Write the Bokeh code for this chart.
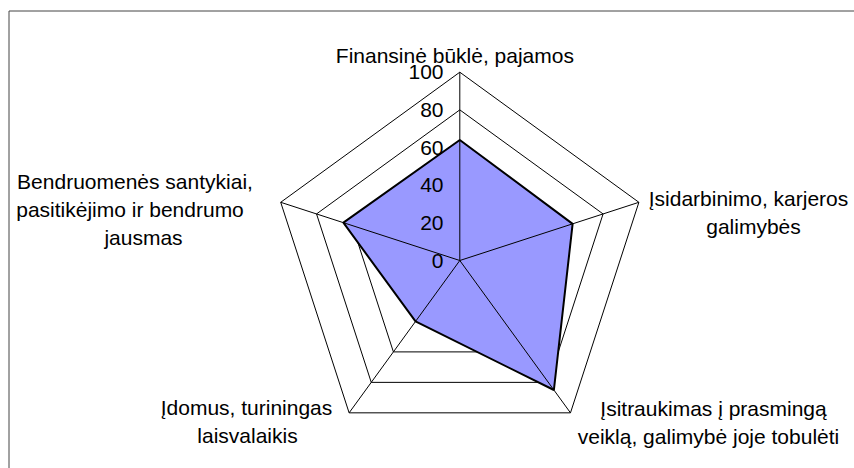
import numpy as np
from bokeh.plotting import figure
from bokeh.models import Range1d
from bokeh.embed import file_html
from bokeh.resources import INLINE
from bokeh.core.properties import value

# ---------------- data ----------------
categories = [
    "Finansinė būklė, pajamos",
    "Įsidarbinimo, karjeros galimybės",
    "Įsitraukimas į prasmingą veiklą, galimybė joje tobulėti",
    "Įdomus, turiningas laisvalaikis",
    "Bendruomenės santykiai, pasitikėjimo ir bendrumo jausmas",
]
values = [64, 63, 85, 40, 65]
tick_values = [0, 20, 40, 60, 80, 100]
tick_labels = ["0", "20", "40", "60", "80", "100"]
label_lines = [
    ["Finansinė būklė, pajamos"],
    ["Įsidarbinimo, karjeros", "galimybės"],
    ["Įsitraukimas į prasmingą", "veiklą, galimybė joje tobulėti"],
    ["Įdomus, turiningas", "laisvalaikis"],
    ["Bendruomenės santykiai,", "pasitikėjimo ir bendrumo", "jausmas"],
]

# ---------------- layout ----------------
W, H = 854, 468
PX = 1.883             # pixels per value unit
CX, CY = 459.3, 260.0  # canvas position of the radar centre
FONT = value("Liberation Sans")
FS = "21px"

def to_data(px, py):
    return (px - CX) / PX, (CY - py) / PX

# label line anchors (canvas px: centre x, baseline y)
label_pos = [
    [(454.4, 55)],
    [(748, 198.3), (753, 226)],
    [(713, 408.3), (708, 436)],
    [(246, 406.7), (247, 435)],
    [(134.5, 181), (129.5, 208.7), (143, 236.5)],
]

p = figure(width=W, height=H, output_backend="svg", toolbar_location=None,
           x_range=Range1d(-CX / PX, (W - CX) / PX),
           y_range=Range1d((CY - H) / PX, CY / PX),
           x_axis_type=None, y_axis_type=None, min_border=0)
p.grid.visible = False
p.outline_line_color = None
p.background_fill_color = "white"
p.border_fill_color = "white"

n = len(categories)
ang = np.arange(n) * 2 * np.pi / n

# frame (top and left edges visible)
fx0, fy_top = to_data(8.5, 10.5)
_, fy_bot = to_data(0, H + 5)
fx_right, _ = to_data(W + 5, 0)
p.segment(x0=[fx0, fx0], y0=[fy_top, fy_top], x1=[fx_right, fx0], y1=[fy_top, fy_bot],
          line_color="#444444", line_width=1)

# grid pentagons
gx, gy = [], []
for t in tick_values[1:]:
    gx.append(list(t * np.sin(ang)) + [t * np.sin(ang[0])])
    gy.append(list(t * np.cos(ang)) + [t * np.cos(ang[0])])
p.multi_line(gx, gy, line_color="black", line_width=1)

# data polygon
v = np.array(values, dtype=float)
p.patch(list(v * np.sin(ang)), list(v * np.cos(ang)), fill_color="#9999FF",
        fill_alpha=1.0, line_color="black", line_width=2)

# spokes
rmax = max(tick_values)
p.segment(x0=[0] * n, y0=[0] * n, x1=list(rmax * np.sin(ang)), y1=list(rmax * np.cos(ang)),
          line_color="black", line_width=1)

# tick labels
tx = (443 - CX) / PX
p.text(x=[tx] * len(tick_values), y=tick_values, text=tick_labels,
       text_font=FONT, text_font_size=FS, text_align="right",
       text_baseline="middle", text_color="black")

# category labels
lx, ly, lt = [], [], []
for lines, poss in zip(label_lines, label_pos):
    for s, (px, py) in zip(lines, poss):
        x, y = to_data(px, py)
        lx.append(x); ly.append(y); lt.append(s)
p.text(x=lx, y=ly, text=lt, text_font=FONT, text_font_size=FS,
       text_align="center", text_baseline="alphabetic", text_color="black")

open("out.html", "w").write(file_html(p, INLINE))
